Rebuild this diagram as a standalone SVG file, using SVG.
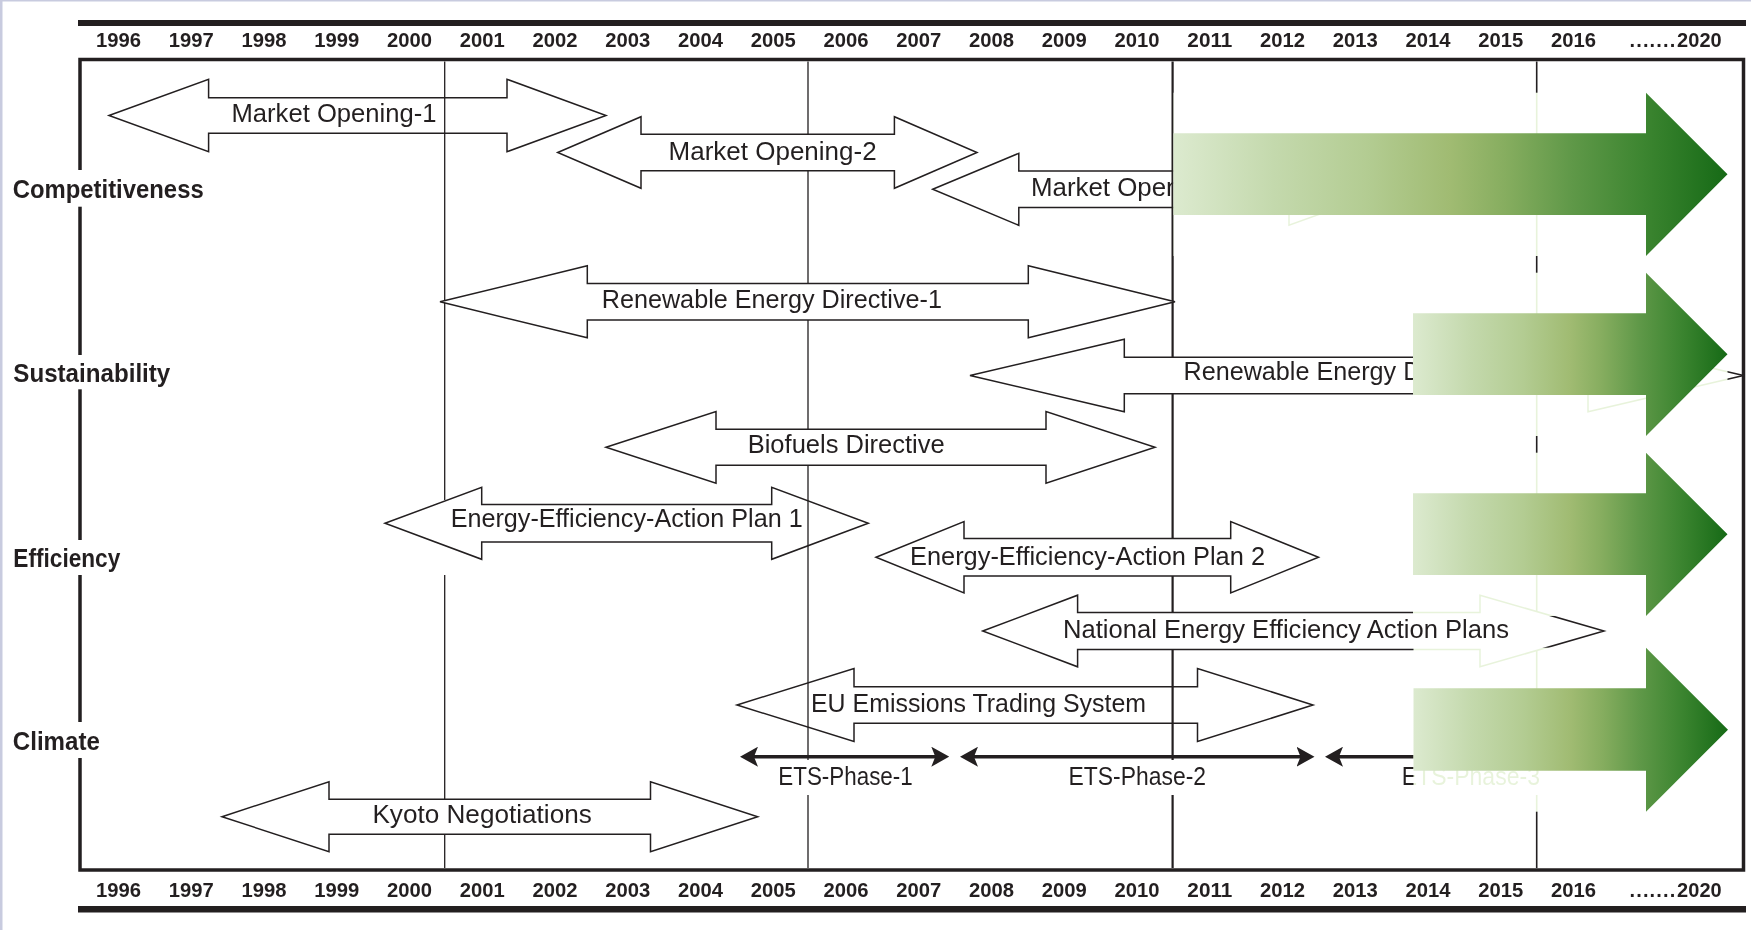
<svg xmlns="http://www.w3.org/2000/svg" width="1751" height="930" viewBox="0 0 1751 930">
<defs>
<style>
.t{font-family:"Liberation Sans",Arial,Helvetica,sans-serif;fill:#231f20}
.yr{font-size:20px;font-weight:bold;text-anchor:middle}
.yre{font-size:20px;font-weight:bold}
.lbl{font-size:26px}
.row{font-size:26px;font-weight:bold}
.blk{fill:#fff;stroke:#231f20;stroke-width:1.5;stroke-linejoin:miter}
.vl{stroke:#231f20;fill:none}
.ov{fill:#e4f1d6;mix-blend-mode:screen}
.ga{fill:url(#gg)}
.ets{stroke:#231f20;stroke-width:3.5;fill:none;marker-start:url(#eh);marker-end:url(#eh)}
.wb{fill:#fff}
</style>
<linearGradient id="gg" x1="0" y1="0" x2="1" y2="0">
<stop offset="0" stop-color="#dceacf"/>
<stop offset="0.18" stop-color="#c4d9ad"/>
<stop offset="0.35" stop-color="#b3cc92"/>
<stop offset="0.5" stop-color="#a0bb72"/>
<stop offset="0.6" stop-color="#86ad5f"/>
<stop offset="0.72" stop-color="#5f9848"/>
<stop offset="0.85" stop-color="#3c8530"/>
<stop offset="1" stop-color="#166a16"/>
</linearGradient>
<marker id="eh" viewBox="0 0 18 20" refX="10" refY="10" markerWidth="18" markerHeight="20" markerUnits="userSpaceOnUse" orient="auto-start-reverse">
<path d="M18,10 L0,0 L4,10 L0,20 Z" fill="#231f20"/>
</marker>
</defs>
<rect x="0" y="0" width="1751" height="930" fill="#fff"/>
<rect x="0" y="0" width="2.5" height="930" fill="#c8cbdf"/>
<rect x="0" y="0" width="1751" height="1.5" fill="#c8cbdf"/>

<g id="axis">
<rect x="78" y="20" width="1668" height="6" fill="#231f20"/>
<rect x="78" y="906" width="1668" height="6.5" fill="#231f20"/>
<rect x="80" y="59.5" width="1663.5" height="810.5" fill="none" stroke="#231f20" stroke-width="3.5"/>
<g class="t yr">
<text x="118.6" y="46.7" textLength="45" lengthAdjust="spacingAndGlyphs">1996</text>
<text x="191.35" y="46.7" textLength="45" lengthAdjust="spacingAndGlyphs">1997</text>
<text x="264.1" y="46.7" textLength="45" lengthAdjust="spacingAndGlyphs">1998</text>
<text x="336.85" y="46.7" textLength="45" lengthAdjust="spacingAndGlyphs">1999</text>
<text x="409.6" y="46.7" textLength="45" lengthAdjust="spacingAndGlyphs">2000</text>
<text x="482.35" y="46.7" textLength="45" lengthAdjust="spacingAndGlyphs">2001</text>
<text x="555.1" y="46.7" textLength="45" lengthAdjust="spacingAndGlyphs">2002</text>
<text x="627.85" y="46.7" textLength="45" lengthAdjust="spacingAndGlyphs">2003</text>
<text x="700.6" y="46.7" textLength="45" lengthAdjust="spacingAndGlyphs">2004</text>
<text x="773.35" y="46.7" textLength="45" lengthAdjust="spacingAndGlyphs">2005</text>
<text x="846.1" y="46.7" textLength="45" lengthAdjust="spacingAndGlyphs">2006</text>
<text x="918.85" y="46.7" textLength="45" lengthAdjust="spacingAndGlyphs">2007</text>
<text x="991.6" y="46.7" textLength="45" lengthAdjust="spacingAndGlyphs">2008</text>
<text x="1064.35" y="46.7" textLength="45" lengthAdjust="spacingAndGlyphs">2009</text>
<text x="1137.1" y="46.7" textLength="45" lengthAdjust="spacingAndGlyphs">2010</text>
<text x="1209.85" y="46.7" textLength="45" lengthAdjust="spacingAndGlyphs">2011</text>
<text x="1282.6" y="46.7" textLength="45" lengthAdjust="spacingAndGlyphs">2012</text>
<text x="1355.35" y="46.7" textLength="45" lengthAdjust="spacingAndGlyphs">2013</text>
<text x="1428.1" y="46.7" textLength="45" lengthAdjust="spacingAndGlyphs">2014</text>
<text x="1500.85" y="46.7" textLength="45" lengthAdjust="spacingAndGlyphs">2015</text>
<text x="1573.6" y="46.7" textLength="45" lengthAdjust="spacingAndGlyphs">2016</text>
<text x="118.6" y="896.7" textLength="45" lengthAdjust="spacingAndGlyphs">1996</text>
<text x="191.35" y="896.7" textLength="45" lengthAdjust="spacingAndGlyphs">1997</text>
<text x="264.1" y="896.7" textLength="45" lengthAdjust="spacingAndGlyphs">1998</text>
<text x="336.85" y="896.7" textLength="45" lengthAdjust="spacingAndGlyphs">1999</text>
<text x="409.6" y="896.7" textLength="45" lengthAdjust="spacingAndGlyphs">2000</text>
<text x="482.35" y="896.7" textLength="45" lengthAdjust="spacingAndGlyphs">2001</text>
<text x="555.1" y="896.7" textLength="45" lengthAdjust="spacingAndGlyphs">2002</text>
<text x="627.85" y="896.7" textLength="45" lengthAdjust="spacingAndGlyphs">2003</text>
<text x="700.6" y="896.7" textLength="45" lengthAdjust="spacingAndGlyphs">2004</text>
<text x="773.35" y="896.7" textLength="45" lengthAdjust="spacingAndGlyphs">2005</text>
<text x="846.1" y="896.7" textLength="45" lengthAdjust="spacingAndGlyphs">2006</text>
<text x="918.85" y="896.7" textLength="45" lengthAdjust="spacingAndGlyphs">2007</text>
<text x="991.6" y="896.7" textLength="45" lengthAdjust="spacingAndGlyphs">2008</text>
<text x="1064.35" y="896.7" textLength="45" lengthAdjust="spacingAndGlyphs">2009</text>
<text x="1137.1" y="896.7" textLength="45" lengthAdjust="spacingAndGlyphs">2010</text>
<text x="1209.85" y="896.7" textLength="45" lengthAdjust="spacingAndGlyphs">2011</text>
<text x="1282.6" y="896.7" textLength="45" lengthAdjust="spacingAndGlyphs">2012</text>
<text x="1355.35" y="896.7" textLength="45" lengthAdjust="spacingAndGlyphs">2013</text>
<text x="1428.1" y="896.7" textLength="45" lengthAdjust="spacingAndGlyphs">2014</text>
<text x="1500.85" y="896.7" textLength="45" lengthAdjust="spacingAndGlyphs">2015</text>
<text x="1573.6" y="896.7" textLength="45" lengthAdjust="spacingAndGlyphs">2016</text>
</g>
<text class="t yre" x="1629.5 1636.2 1642.9 1649.6 1656.3 1663 1669.7 1677 1688.2 1699.4 1710.6" y="46.7">.......2020</text>
<text class="t yre" x="1629.5 1636.2 1642.9 1649.6 1656.3 1663 1669.7 1677 1688.2 1699.4 1710.6" y="896.7">.......2020</text>
</g>

<g id="arrows-under">
<g id="market-opening-1"><polygon class="blk" points="109,115.5 208.6,79.3 208.6,97.7 507,97.7 507,79.3 606,115.5 507,151.7 507,133.3 208.6,133.3 208.6,151.7"/><text class="t lbl" x="231.5" y="121.5" textLength="205" lengthAdjust="spacingAndGlyphs">Market Opening-1</text></g>
<g id="market-opening-3"><polygon class="blk" points="932.7,189.3 1018.8,153.3 1018.8,171 1289,171 1289,153.3 1389,189.3 1289,225.3 1289,207.6 1018.8,207.6 1018.8,225.3"/><text class="t lbl" x="1031" y="196" textLength="207" lengthAdjust="spacingAndGlyphs">Market Opening-3</text></g>
<g id="eeap-1"><polygon class="blk" points="385,523.3 481.7,487.3 481.7,504.5 771.7,504.5 771.7,487.3 868.3,523.3 771.7,559.3 771.7,542.1 481.7,542.1 481.7,559.3"/><text class="t lbl" x="450.7" y="527.3" textLength="352" lengthAdjust="spacingAndGlyphs">Energy-Efficiency-Action Plan 1</text></g>
<g id="eu-ets"><polygon class="blk" points="737,705 854,668.5 854,686.7 1197.5,686.7 1197.5,668.5 1313,705 1197.5,741.5 1197.5,723.3 854,723.3 854,741.5"/><text class="t lbl" x="811" y="711.7" textLength="335" lengthAdjust="spacingAndGlyphs">EU Emissions Trading System</text></g>
</g>

<g id="gridlines">
<path class="vl" stroke-width="1.3" d="M444.7,61.5V500M444.7,575V868"/>
<path class="vl" stroke-width="1.3" d="M808,61.5V760M808,795V868"/>
<path class="vl" stroke-width="2.2" d="M1172.6,61.5V760M1172.6,795V868"/>
<path class="vl" stroke-width="1.6" d="M1536.7,61.5V868"/>
</g>

<g id="arrows-over">
<g id="market-opening-2"><polygon class="blk" points="557.7,152.5 641,116.7 641,134.2 894.4,134.2 894.4,116.7 977,152.5 894.4,188.3 894.4,170.8 641,170.8 641,188.3"/><text class="t lbl" x="668.6" y="160" textLength="208" lengthAdjust="spacingAndGlyphs">Market Opening-2</text></g>
<g id="red-1"><polygon class="blk" points="440,301.8 587.3,265.8 587.3,283.5 1028.3,283.5 1028.3,265.8 1175,301.8 1028.3,337.8 1028.3,320.1 587.3,320.1 587.3,337.8"/><text class="t lbl" x="601.7" y="308.3" textLength="340.3" lengthAdjust="spacingAndGlyphs">Renewable Energy Directive-1</text></g>
<g id="red-2"><polygon class="blk" points="970,375.5 1124.3,339.3 1124.3,357.3 1588,357.3 1588,339.3 1743.5,375.5 1588,411.7 1588,393.7 1124.3,393.7 1124.3,411.7"/><text class="t lbl" x="1183.5" y="380" textLength="340" lengthAdjust="spacingAndGlyphs">Renewable Energy Directive-2</text></g>
<g id="biofuels"><polygon class="blk" points="606,447.3 716,411.5 716,429.3 1046,429.3 1046,411.5 1155,447.3 1046,483.1 1046,465.3 716,465.3 716,483.1"/><text class="t lbl" x="747.7" y="453.3" textLength="197" lengthAdjust="spacingAndGlyphs">Biofuels Directive</text></g>
<g id="eeap-2"><polygon class="blk" points="876,557.3 964,521.6 964,538.6 1230.7,538.6 1230.7,521.6 1318.5,557.3 1230.7,593 1230.7,576 964,576 964,593"/><text class="t lbl" x="910" y="565" textLength="355" lengthAdjust="spacingAndGlyphs">Energy-Efficiency-Action Plan 2</text></g>
<g id="neeap"><polygon class="blk" points="982.7,631 1077.6,595.2 1077.6,612.5 1480,612.5 1480,595.2 1604,631 1480,666.8 1480,649.5 1077.6,649.5 1077.6,666.8"/><text class="t lbl" x="1063" y="638" textLength="446" lengthAdjust="spacingAndGlyphs">National Energy Efficiency Action Plans</text></g>
<g id="kyoto"><polygon class="blk" points="222,816.7 329,781.7 329,799.2 650.5,799.2 650.5,781.7 757.7,816.7 650.5,851.7 650.5,834.2 329,834.2 329,851.7"/><text class="t lbl" x="372.4" y="823" textLength="219.4" lengthAdjust="spacingAndGlyphs">Kyoto Negotiations</text></g>
</g>

<g id="connectors">
<path class="ets" d="M748,756.7H941.3"/>
<path class="ets" d="M968,756.7H1306.5"/>
<path class="ets" d="M1333,756.7H1630"/>
</g>

<g id="ets-phases">
<g id="ets-phase-1"><rect class="wb" x="775" y="761" width="141" height="34"/><text class="t lbl" x="778.3" y="785" textLength="134.4" lengthAdjust="spacingAndGlyphs">ETS-Phase-1</text></g>
<g id="ets-phase-2"><rect class="wb" x="1065" y="761" width="145" height="34"/><text class="t lbl" x="1068.6" y="785" textLength="137.4" lengthAdjust="spacingAndGlyphs">ETS-Phase-2</text></g>
<g id="ets-phase-3"><rect class="wb" x="1398" y="761" width="145" height="34"/><text class="t lbl" x="1401.7" y="785" textLength="138.3" lengthAdjust="spacingAndGlyphs">ETS-Phase-3</text></g>
</g>

<g id="rows">
<g id="row-competitiveness"><rect class="wb" x="5" y="170" width="203" height="36.7"/><text class="t row" x="12.7" y="198.3" textLength="191" lengthAdjust="spacingAndGlyphs">Competitiveness</text></g>
<g id="row-sustainability"><rect class="wb" x="5" y="355" width="169" height="34.3"/><text class="t row" x="13.3" y="381.7" textLength="157" lengthAdjust="spacingAndGlyphs">Sustainability</text></g>
<g id="row-efficiency"><rect class="wb" x="5" y="540" width="119" height="35"/><text class="t row" x="13.3" y="566.7" textLength="107" lengthAdjust="spacingAndGlyphs">Efficiency</text></g>
<g id="row-climate"><rect class="wb" x="5" y="722" width="99" height="36"/><text class="t row" x="12.8" y="750" textLength="87" lengthAdjust="spacingAndGlyphs">Climate</text></g>
</g>

<g id="trend-competitiveness"><rect class="ov" x="1173.5" y="92.7" width="554" height="163.3"/><polygon class="ga" points="1173.5,133.3 1646,133.3 1646,92.7 1727.5,174.2 1646,256 1646,215 1173.5,215"/></g>
<g id="trend-sustainability"><rect class="ov" x="1413" y="272.7" width="314.5" height="163.3"/><polygon class="ga" points="1413,313.3 1646,313.3 1646,272.7 1727.5,354.3 1646,436 1646,395 1413,395"/></g>
<g id="trend-efficiency"><rect class="ov" x="1413" y="452.7" width="314.5" height="163.3"/><polygon class="ga" points="1413,493.3 1646,493.3 1646,452.7 1727.5,534.3 1646,616 1646,575 1413,575"/></g>
<g id="trend-climate"><rect class="ov" x="1413.5" y="647.7" width="314.5" height="164"/><polygon class="ga" points="1413.5,688.3 1646,688.3 1646,647.7 1728,729.7 1646,811.7 1646,770.7 1413.5,770.7"/></g>
</svg>
